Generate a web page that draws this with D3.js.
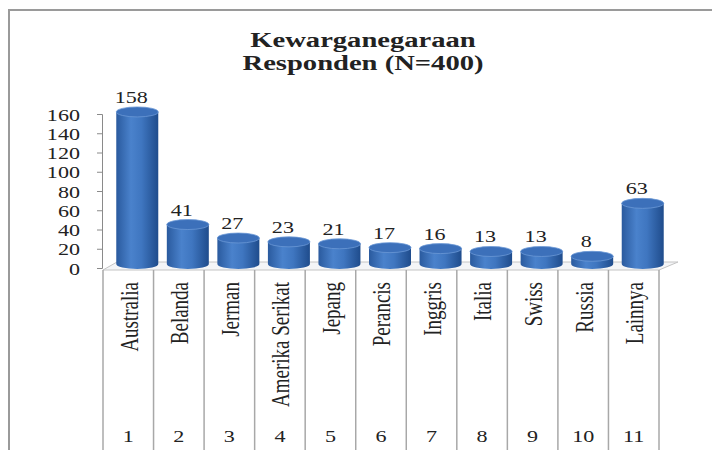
<!DOCTYPE html>
<html>
<head>
<meta charset="utf-8">
<script src="https://cdn.jsdelivr.net/npm/d3@7"></script>
<style>
  body { margin: 0; background: #fff; }
  text { font-family: "Liberation Serif", "DejaVu Serif", serif; fill: #222; }
</style>
</head>
<body>
<div id="chart"></div>
<script>
// data
var negara = ["Australia", "Belanda", "Jerman", "Amerika Serikat", "Jepang", "Perancis",
              "Inggris", "Italia", "Swiss", "Russia", "Lainnya"];
var nomor = ["1", "2", "3", "4", "5", "6", "7", "8", "9", "10", "11"];
var jumlah = [158, 41, 27, 23, 21, 17, 16, 13, 13, 8, 63];
var yTicks = [0, 20, 40, 60, 80, 100, 120, 140, 160];
var judul = ["Kewarganegaraan", "Responden (N=400)"];

var width = 712, height = 450;
var sx = 1.3; // the picture is stretched sideways

var svg = d3.select("#chart")
  .append("svg")
    .attr("width", width)
    .attr("height", height);

// outer frame
svg.append("rect")
  .attr("x", 9).attr("y", 10)
  .attr("width", 720).attr("height", 460)
  .attr("fill", "none")
  .attr("stroke", "#9a9a9a")
  .attr("stroke-width", 2);

// title
svg.selectAll(".judul")
  .data(judul)
  .enter().append("text")
    .attr("class", "judul")
    .attr("transform", function(d, i) { return "translate(363," + (47 + i * 23) + ") scale(" + sx + ",1)"; })
    .attr("text-anchor", "middle")
    .style("font-size", "22px")
    .style("font-weight", "bold")
    .text(function(d) { return d; });

// scales
var x = d3.scaleBand()
  .domain(negara)
  .range([103, 659])
  .padding(0);

var y = d3.scaleLinear()
  .domain([0, 160])
  .range([268, 114]);

// 3D floor
var floorTop = 262, floorFront = 270;
svg.append("path")
  .attr("d", "M" + x.range()[0] + "," + floorFront + "L" + x.range()[1] + "," + floorFront +
             "L" + (x.range()[1] + 19) + "," + floorTop + "L" + (x.range()[0] + 14) + "," + floorTop + "Z")
  .attr("fill", "#f4f5f7")
  .attr("stroke", "#c4c4c4")
  .attr("stroke-width", 1);

// table lines under the axis
var garis = negara.map(function(d) { return x(d); }).concat([x.range()[1]]);
svg.selectAll(".kolom")
  .data(garis)
  .enter().append("line")
    .attr("class", "kolom")
    .attr("x1", function(d) { return d; })
    .attr("x2", function(d) { return d; })
    .attr("y1", floorFront)
    .attr("y2", height)
    .attr("stroke", "#a8a8a8")
    .attr("stroke-width", 1.5);

// Y axis
var yAxis = svg.append("g")
  .attr("transform", "translate(102,0)")
  .call(d3.axisLeft(y).tickValues(yTicks).tickSize(5).tickSizeOuter(5));

yAxis.selectAll("path, line").attr("stroke", "#8a8a8a");
yAxis.selectAll("text")
  .attr("x", null).attr("dy", null)
  .attr("transform", "translate(-22,0) scale(" + sx + ",1)")
  .attr("dominant-baseline", "central")
  .attr("text-anchor", "end")
  .style("font-family", "'Liberation Serif', serif")
  .style("font-size", "17px")
  .attr("fill", "#222");

// cylinder bars
var defs = svg.append("defs");
var grad = defs.append("linearGradient").attr("id", "badan");
grad.append("stop").attr("offset", "0%").attr("stop-color", "#2a5a9e");
grad.append("stop").attr("offset", "35%").attr("stop-color", "#4a82cc");
grad.append("stop").attr("offset", "60%").attr("stop-color", "#3f76c0");
grad.append("stop").attr("offset", "100%").attr("stop-color", "#1f4c8c");

var rx = 21, ry = 5, geser = 9, naik = 4;
var bars = svg.selectAll(".bar")
  .data(jumlah)
  .enter().append("g")
    .attr("class", "bar");

function cx(i) { return x(negara[i]) + x.bandwidth() / 2 + geser; }

bars.append("path")
  .attr("d", function(d, i) {
    var c = cx(i), top = y(d) - naik, bot = y(0) - naik;
    return "M" + (c - rx) + "," + top +
           "L" + (c - rx) + "," + bot +
           "A" + rx + "," + ry + " 0 0 0 " + (c + rx) + "," + bot +
           "L" + (c + rx) + "," + top + "Z";
  })
  .attr("fill", "url(#badan)");

bars.append("ellipse")
  .attr("cx", function(d, i) { return cx(i); })
  .attr("cy", function(d) { return y(d) - naik; })
  .attr("rx", rx)
  .attr("ry", ry)
  .attr("fill", "#3c70ba")
  .attr("stroke", "#6b98d6")
  .attr("stroke-width", 0.8);

// value labels
svg.selectAll(".nilai")
  .data(jumlah)
  .enter().append("text")
    .attr("class", "nilai")
    .attr("transform", function(d, i) {
      return "translate(" + (x(negara[i]) + x.bandwidth() / 2 + 3) + "," + (y(d) - naik - ry - 4) + ") scale(" + sx + ",1)";
    })
    .attr("text-anchor", "middle")
    .style("font-size", "17px")
    .text(function(d) { return d; });

// category names, rotated
svg.selectAll(".nama")
  .data(negara)
  .enter().append("text")
    .attr("class", "nama")
    .attr("transform", function(d) {
      return "translate(" + (x(d) + x.bandwidth() / 2 + 1) + ",282) scale(" + sx + ",1) rotate(-90)";
    })
    .attr("text-anchor", "end")
    .attr("dominant-baseline", "central")
    .style("font-size", "19px")
    .text(function(d) { return d; });

// numbers at the bottom
svg.selectAll(".nomor")
  .data(nomor)
  .enter().append("text")
    .attr("class", "nomor")
    .attr("transform", function(d, i) {
      return "translate(" + (x(negara[i]) + x.bandwidth() / 2) + ",442) scale(" + sx + ",1)";
    })
    .attr("text-anchor", "middle")
    .style("font-size", "17px")
    .text(function(d) { return d; });
</script>
</body>
</html>
